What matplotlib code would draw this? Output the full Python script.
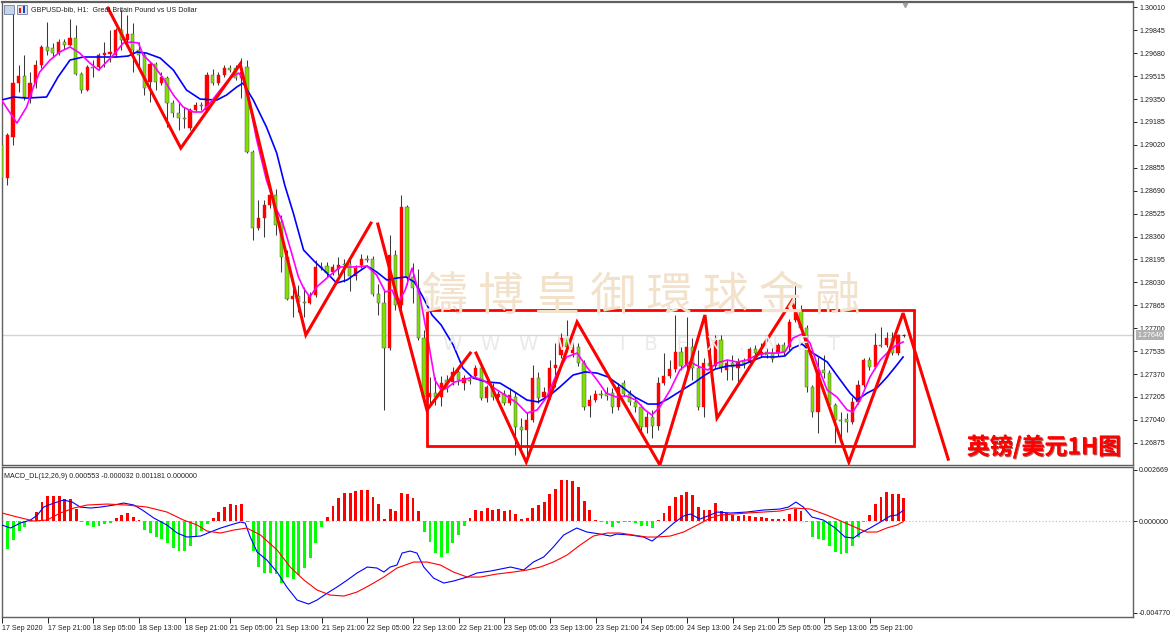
import matplotlib
matplotlib.use("Agg")
import matplotlib.pyplot as plt
from matplotlib.patches import Rectangle
from matplotlib import font_manager
import matplotlib.patheffects as pe
import numpy as np

# ---------------- data ----------------
opens = [1.29019,1.28781,1.29077,1.29465,1.29516,1.29365,1.29465,1.29595,1.29725,1.29717,
1.29681,1.29761,1.29739,1.29789,1.29530,1.29415,1.29581,1.29581,1.29667,1.29674,
1.29667,1.29847,1.29775,1.29818,1.29703,1.29667,1.29473,1.29602,1.29465,1.29501,
1.29321,1.29249,1.29213,1.29141,1.29271,1.29307,1.29271,1.29523,1.29465,1.29523,
1.29573,1.29573,1.29501,1.29581,1.28969,1.28421,1.28493,1.28587,1.28659,1.28465,
1.28213,1.27910,1.27932,1.27889,1.27881,1.27939,1.28141,1.28148,1.28105,1.28126,
1.28162,1.28162,1.28076,1.28155,1.28199,1.28199,1.27946,1.27881,1.27557,1.28227,
1.27867,1.28573,1.28069,1.27989,1.27629,1.27205,1.27233,1.27205,1.27327,1.27313,
1.27385,1.27305,1.27327,1.27356,1.27413,1.27197,1.27277,1.27205,1.27226,1.27161,
1.27205,1.26989,1.26967,1.27039,1.27341,1.27205,1.27205,1.27413,1.27507,1.27629,
1.27521,1.27565,1.27449,1.27140,1.27183,1.27226,1.27233,1.27233,1.27133,1.27305,
1.27226,1.27169,1.27133,1.26989,1.27061,1.26996,1.27305,1.27356,1.27406,1.27529,
1.27428,1.27565,1.27413,1.27133,1.27449,1.27428,1.27615,1.27399,1.27449,1.27413,
1.27464,1.27457,1.27550,1.27507,1.27529,1.27521,1.27521,1.27579,1.27565,1.27759,
1.27831,1.27701,1.27277,1.27097,1.27399,1.27377,1.27147,1.27039,1.27046,1.27025,
1.27169,1.27291,1.27471,1.27421,1.27579,1.27579,1.27629,1.27521,1.27651]
highs = [1.29055,1.29105,1.29969,1.29595,1.29667,1.29545,1.29631,1.29739,1.29905,1.29753,
1.29782,1.29782,1.29926,1.29883,1.29545,1.29595,1.29631,1.29681,1.29761,1.29847,
1.29861,1.29991,1.29955,1.29897,1.29761,1.29689,1.29617,1.29617,1.29545,1.29516,
1.29343,1.29321,1.29293,1.29285,1.29329,1.29329,1.29545,1.29566,1.29545,1.29595,
1.29595,1.29595,1.29645,1.29631,1.28983,1.28623,1.28623,1.28695,1.28702,1.28515,
1.28263,1.28047,1.28011,1.27997,1.27961,1.28191,1.28177,1.28177,1.28162,1.28213,
1.28199,1.28199,1.28155,1.28234,1.28227,1.28220,1.28018,1.27975,1.28371,1.28263,
1.28659,1.28587,1.28169,1.28126,1.27687,1.27349,1.27349,1.27356,1.27363,1.27421,
1.27399,1.27363,1.27356,1.27435,1.27435,1.27291,1.27305,1.27255,1.27255,1.27269,
1.27241,1.27053,1.27097,1.27435,1.27385,1.27277,1.27471,1.27593,1.27665,1.27759,
1.27615,1.27593,1.27471,1.27219,1.27255,1.27255,1.27277,1.27269,1.27305,1.27327,
1.27255,1.27205,1.27154,1.27097,1.27111,1.27349,1.27521,1.27471,1.27795,1.27565,
1.27781,1.27629,1.27543,1.27485,1.27579,1.27651,1.27651,1.27471,1.27507,1.27485,
1.27485,1.27565,1.27579,1.27593,1.27557,1.27557,1.27593,1.27601,1.27766,1.28033,
1.27867,1.27723,1.27291,1.27493,1.27507,1.27399,1.27161,1.27097,1.27089,1.27205,
1.27327,1.27485,1.27493,1.27665,1.27709,1.27673,1.27673,1.27658,1.27658]
lows = [1.28753,1.28731,1.29019,1.29401,1.29343,1.29321,1.29429,1.29573,1.29667,1.29653,
1.29667,1.29710,1.29732,1.29523,1.29393,1.29408,1.29509,1.29559,1.29581,1.29617,
1.29653,1.29703,1.29761,1.29545,1.29581,1.29379,1.29329,1.29415,1.29451,1.29149,
1.29221,1.29127,1.29141,1.29127,1.29257,1.29271,1.29257,1.29451,1.29451,1.29509,
1.29545,1.29487,1.29357,1.28961,1.28335,1.28407,1.28357,1.28565,1.28371,1.28105,
1.27903,1.27781,1.27817,1.27781,1.27874,1.27925,1.28119,1.28069,1.28083,1.28083,
1.28033,1.27968,1.28047,1.28133,1.28177,1.27932,1.27795,1.27111,1.27543,1.27831,
1.27831,1.28011,1.27881,1.27615,1.27183,1.27133,1.27147,1.27140,1.27241,1.27291,
1.27291,1.27255,1.27298,1.27341,1.27183,1.27169,1.27183,1.27183,1.27147,1.27147,
1.26787,1.26809,1.26787,1.27025,1.27161,1.27183,1.27190,1.27277,1.27485,1.27529,
1.27493,1.27428,1.27111,1.27061,1.27169,1.27197,1.27183,1.27089,1.27111,1.27212,
1.27147,1.27097,1.26953,1.26945,1.26909,1.26967,1.27291,1.27341,1.27385,1.27399,
1.27399,1.27327,1.27111,1.27061,1.27385,1.27413,1.27385,1.27327,1.27327,1.27313,
1.27413,1.27435,1.27500,1.27493,1.27485,1.27457,1.27500,1.27507,1.27543,1.27745,
1.27687,1.27241,1.27061,1.26945,1.27341,1.27125,1.26873,1.26873,1.26953,1.27010,
1.27154,1.27277,1.27399,1.27406,1.27565,1.27565,1.27507,1.27507,1.27637]
closes = [1.28781,1.29091,1.29465,1.29516,1.29365,1.29465,1.29595,1.29725,1.29696,1.29681,
1.29761,1.29739,1.29789,1.29530,1.29415,1.29581,1.29573,1.29667,1.29681,1.29689,
1.29847,1.29775,1.29818,1.29703,1.29667,1.29429,1.29602,1.29473,1.29509,1.29321,
1.29249,1.29213,1.29206,1.29271,1.29307,1.29300,1.29523,1.29465,1.29523,1.29573,
1.29559,1.29501,1.29545,1.28969,1.28421,1.28493,1.28587,1.28659,1.28443,1.28213,
1.27910,1.27932,1.27889,1.27881,1.27939,1.28141,1.28133,1.28097,1.28141,1.28155,
1.28155,1.28076,1.28133,1.28199,1.28191,1.27946,1.27881,1.27557,1.28227,1.27867,
1.28573,1.28069,1.27989,1.27629,1.27205,1.27233,1.27205,1.27305,1.27262,1.27385,
1.27327,1.27341,1.27320,1.27413,1.27197,1.27277,1.27205,1.27226,1.27161,1.27219,
1.26989,1.26967,1.27039,1.27341,1.27197,1.27241,1.27413,1.27435,1.27629,1.27565,
1.27565,1.27449,1.27133,1.27183,1.27226,1.27219,1.27212,1.27133,1.27277,1.27226,
1.27169,1.27133,1.26989,1.27061,1.26996,1.27305,1.27356,1.27406,1.27529,1.27428,
1.27565,1.27413,1.27133,1.27449,1.27428,1.27615,1.27421,1.27449,1.27421,1.27457,
1.27435,1.27550,1.27521,1.27529,1.27507,1.27478,1.27579,1.27529,1.27745,1.27831,
1.27701,1.27277,1.27097,1.27399,1.27377,1.27147,1.27039,1.27032,1.27025,1.27169,
1.27291,1.27471,1.27421,1.27579,1.27572,1.27629,1.27521,1.27651,1.27651]

# fast moving average (magenta) read at bar positions
ma_fast_x = [0.0,2.7,4.4,5.6,6.7,8.5,10.2,12.0,13.7,15.5,17.0,18.4,19.9,21.3,22.8,24.0,24.8,26.6,28.3,30.1,
31.8,33.6,35.1,36.5,38.3,40.0,41.5,42.3,43.2,44.7,46.4,48.2,49.1,50.5,52.0,52.9,54.0,55.2,57.2,59.3,
61.6,64.0,65.7,67.2,68.4,69.4,70.7,71.9,73.3,74.7,75.9,77.0,78.0,79.4,80.8,82.6,84.3,86.8,88.7,90.3,
92.0,93.8,95.5,97.3,99.0,100.8,102.5,104.3,105.9,107.6,109.4,111.1,112.7,113.9,115.3,117.1,118.8,120.6,122.3,123.7,
125.3,127.1,128.8,130.6,132.3,134.1,135.8,137.2,138.6,140.2,141.6,143.0,144.6,146.3,148.1,149.1,150.4,152.1,153.9,155.6,
156.8,157.9]
ma_fast_y = [1.29343,1.29177,1.29293,1.29437,1.29545,1.29631,1.29689,1.29725,1.29681,1.29609,1.29559,1.29617,1.29681,1.29753,1.29761,1.29753,1.29667,1.29595,1.29501,1.29379,
1.29293,1.29257,1.29257,1.29321,1.29415,1.29501,1.29537,1.29501,1.29365,1.29055,1.28767,1.28551,1.28479,1.28285,1.28069,1.27989,1.27925,1.27997,1.28069,1.28141,
1.28141,1.28148,1.28083,1.27961,1.27975,1.27881,1.27975,1.28133,1.27925,1.27615,1.27327,1.27255,1.27269,1.27313,1.27327,1.27349,1.27327,1.27255,1.27205,1.27161,
1.27089,1.27111,1.27205,1.27377,1.27493,1.27521,1.27421,1.27327,1.27233,1.27205,1.27212,1.27183,1.27111,1.27075,1.27133,1.27255,1.27399,1.27457,1.27421,1.27399,
1.27449,1.27471,1.27457,1.27471,1.27507,1.27521,1.27521,1.27529,1.27629,1.27658,1.27593,1.27421,1.27255,1.27205,1.27111,1.27097,1.27183,1.27349,1.27471,1.27543,
1.27579,1.27601]

# slow moving average (blue)
ma_slow_x = [0.0,2.1,4.4,7.9,9.9,12.0,14.3,17.3,20.2,22.2,23.7,25.4,27.8,30.1,32.4,34.8,37.7,39.4,41.2,42.3,
44.1,46.4,48.2,49.6,51.1,52.9,54.9,57.0,58.7,60.5,62.2,64.0,65.7,67.5,69.2,70.8,72.3,73.8,75.4,77.0,
79.1,80.8,82.6,85.0,87.3,89.6,92.0,94.0,96.1,97.8,100.1,102.2,104.3,106.2,108.7,110.9,113.2,115.0,116.7,119.2,
121.5,123.2,125.0,127.2,129.7,131.4,133.2,135.5,137.2,138.6,140.2,142.1,144.6,146.9,148.6,149.8,151.6,153.3,155.1,156.8,
157.9]
ma_slow_y = [1.29343,1.29365,1.29357,1.29365,1.29509,1.29631,1.29653,1.29653,1.29653,1.29660,1.29689,1.29681,1.29645,1.29559,1.29415,1.29350,1.29343,1.29379,1.29437,1.29465,
1.29343,1.29149,1.28961,1.28731,1.28530,1.28263,1.28177,1.28097,1.28025,1.28047,1.28097,1.28148,1.28105,1.28047,1.28061,1.28069,1.28033,1.27925,1.27795,1.27723,
1.27579,1.27413,1.27341,1.27313,1.27305,1.27248,1.27183,1.27169,1.27219,1.27277,1.27363,1.27385,1.27377,1.27349,1.27277,1.27205,1.27154,1.27154,1.27190,1.27255,
1.27313,1.27363,1.27406,1.27428,1.27435,1.27464,1.27493,1.27493,1.27500,1.27557,1.27586,1.27521,1.27457,1.27327,1.27233,1.27183,1.27233,1.27269,1.27349,1.27435,
1.27493]

# MACD histogram, one value per bar
macd_hist = [-0.00125,-0.00146,-0.00099,-0.00052,-0.00031,-0.00003,0.00047,0.00099,0.00130,0.00130,
0.00130,0.00114,0.00114,0.00062,-0.00005,-0.00021,-0.00031,-0.00026,-0.00016,-0.00010,
0.00016,0.00031,0.00042,0.00021,0.00005,-0.00047,-0.00062,-0.00083,-0.00094,-0.00114,
-0.00140,-0.00156,-0.00156,-0.00130,-0.00083,-0.00052,-0.00016,0.00016,0.00047,0.00073,
0.00088,0.00083,0.00088,-0.00005,-0.00156,-0.00239,-0.00270,-0.00270,-0.00276,-0.00322,
-0.00291,-0.00302,-0.00281,-0.00244,-0.00192,-0.00114,-0.00031,0.00021,0.00078,0.00120,
0.00146,0.00146,0.00156,0.00161,0.00161,0.00125,0.00088,0.00010,0.00062,0.00052,
0.00146,0.00140,0.00120,0.00052,-0.00057,-0.00109,-0.00166,-0.00187,-0.00166,-0.00114,
-0.00073,-0.00026,0.00016,0.00057,0.00052,0.00068,0.00057,0.00062,0.00052,0.00057,
0.00036,0.00010,0.00016,0.00068,0.00083,0.00099,0.00140,0.00166,0.00213,0.00213,
0.00208,0.00177,0.00104,0.00057,0.00005,-0.00005,-0.00016,-0.00031,-0.00010,-0.00005,
-0.00005,-0.00010,-0.00026,-0.00026,-0.00036,0.00005,0.00042,0.00078,0.00125,0.00135,
0.00151,0.00135,0.00073,0.00057,0.00057,0.00094,0.00052,0.00042,0.00031,0.00026,
0.00031,0.00026,0.00021,0.00021,0.00016,0.00010,0.00010,0.00010,0.00036,0.00062,
0.00052,-0.00005,-0.00083,-0.00094,-0.00099,-0.00130,-0.00161,-0.00172,-0.00166,-0.00130,
-0.00083,-0.00005,0.00031,0.00088,0.00125,0.00151,0.00140,0.00140,0.001181]

# MACD main line (blue) and signal line (red)
macd_x = [0.0,1.5,3.2,5.0,6.2,7.3,9.1,10.8,12.3,13.7,15.5,17.3,19.6,21.3,23.1,24.6,26.6,28.9,30.7,32.4,
34.8,36.5,38.3,40.0,41.8,42.6,43.5,44.7,46.4,48.2,49.9,51.7,53.7,55.2,57.0,58.7,60.5,62.2,64.0,65.7,
66.9,68.0,69.2,70.1,71.5,72.7,73.9,75.6,77.4,79.1,81.5,83.2,85.6,89.1,91.4,93.1,94.9,96.6,98.4,100.7,
102.5,104.8,106.6,107.7,110.1,112.4,113.9,115.9,117.7,119.4,120.6,122.3,124.1,125.3,127.6,130.5,133.4,136.3,137.8,139.1,
140.4,141.9,143.9,146.0,147.7,149.2,150.4,152.1,153.9,155.6,156.8,157.9]
macd_main = [-0.000208,-0.000364,-0.000104,0.000052,0.000312,0.000728,0.000936,0.001092,0.000988,0.000728,
0.000676,0.000728,0.000832,0.000936,0.000832,0.000572,0.000156,-0.000208,-0.000624,-0.000832,
-0.000780,-0.000572,-0.000364,-0.000208,-0.000052,-0.000104,-0.000832,-0.001612,-0.002028,-0.002652,
-0.003432,-0.004108,-0.004316,-0.004108,-0.003744,-0.003432,-0.003068,-0.002704,-0.002392,-0.002444,
-0.002652,-0.002392,-0.002288,-0.001664,-0.001560,-0.001664,-0.002392,-0.002964,-0.003224,-0.003120,
-0.002912,-0.002704,-0.002600,-0.002392,-0.002548,-0.002132,-0.001872,-0.001352,-0.000728,-0.000364,
-0.000572,-0.000676,-0.000780,-0.000676,-0.000728,-0.000832,-0.001040,-0.000572,-0.000104,0.000260,
0.000364,0.000104,0.000312,0.000468,0.000416,0.000468,0.000572,0.000624,0.000728,0.000988,
0.000728,0.000208,0.000052,-0.000364,-0.000832,-0.000884,-0.000624,-0.000364,-0.000052,0.000260,
0.000312,0.000553]
signal_x = [0.0,2.7,5.6,7.9,10.2,12.6,14.9,18.4,21.9,25.4,28.9,31.8,34.2,35.9,38.3,40.6,42.9,45.3,48.2,50.5,
52.9,55.2,57.5,59.9,62.2,64.5,66.9,69.2,72.1,74.5,76.8,79.1,81.5,83.8,86.7,89.6,92.0,94.3,96.6,99.0,
101.3,103.6,106.0,108.3,110.6,113.0,114.7,117.1,119.4,121.8,124.1,125.8,128.2,130.5,133.4,136.3,138.7,141.6,144.5,147.4,
149.8,151.5,153.3,155.0,156.8,157.9]
signal_line = [0.000416,0.000208,0.0,0.000052,0.000416,0.000676,0.000832,0.000884,0.000832,0.000728,
0.000468,0.000052,-0.000208,-0.000520,-0.000624,-0.000468,-0.000364,-0.000728,-0.001508,-0.002392,
-0.003068,-0.003588,-0.003848,-0.003900,-0.003692,-0.003328,-0.002912,-0.002444,-0.002132,-0.002132,
-0.002288,-0.002652,-0.002912,-0.002912,-0.002756,-0.002652,-0.002548,-0.002392,-0.002132,-0.001768,
-0.001248,-0.000780,-0.000624,-0.000624,-0.000728,-0.000832,-0.000832,-0.000780,-0.000572,-0.000208,
0.000156,0.000312,0.000364,0.000416,0.000468,0.000520,0.000676,0.000624,0.000312,-0.000052,
-0.000364,-0.000572,-0.000572,-0.000364,-0.000208,-0.000032]

# hand-drawn trend lines (bar position, price)
trend1_x = [18.65,31.4,41.8,53.3,64.7]
trend1_y = [1.30005,1.28997,1.29602,1.27651,1.28457]
trend2_x = [65.9,74.5,82.1]
trend2_y = [1.28450,1.27111,1.27521]
trend3_x = [83.1,91.9,100.8,115.3,123.2,125.3,138.4,148.4,157.9,165.8]
trend3_y = [1.27521,1.26736,1.27745,1.26715,1.27795,1.27053,1.27896,1.26735,1.27809,1.26757]
box_x = [74.5,159.8]
box_y = [1.26855,1.27831]
bid_price = 1.27651

price_ticks = [1.30010,1.29845,1.29680,1.29515,1.29350,1.29185,1.29020,1.28855,1.28690,1.28525,
1.28360,1.28195,1.28030,1.27865,1.27700,1.27535,1.27370,1.27205,1.27040,1.26875]
macd_ticks = [0.002669,0.0,-0.004770]
time_ticks = list(range(0,153,8))
time_labels = ['17 Sep 2020','17 Sep 21:00','18 Sep 05:00','18 Sep 13:00','18 Sep 21:00',
'21 Sep 05:00','21 Sep 13:00','21 Sep 21:00','22 Sep 05:00','22 Sep 13:00','22 Sep 21:00',
'23 Sep 05:00','23 Sep 13:00','23 Sep 21:00','24 Sep 05:00','24 Sep 13:00','24 Sep 21:00',
'25 Sep 05:00','25 Sep 13:00','25 Sep 21:00']

# ---------------- drawing ----------------
installed = {f.name for f in font_manager.fontManager.ttflist}
SMALL = 'Liberation Sans Narrow' if 'Liberation Sans Narrow' in installed else 'Liberation Sans'
SMALL_SIZE = 5.9 if SMALL == 'Liberation Sans Narrow' else 5.1
plt.rcParams['font.family'] = [SMALL, 'DejaVu Sans']

W, H = 1170, 632
fig = plt.figure(figsize=(W/100, H/100), dpi=100, facecolor='white')

def box(x0, y0, x1, y1):
    return [x0/W, 1-y1/H, (x1-x0)/W, (y1-y0)/H]

ax = fig.add_axes(box(2, 2, 1133, 465))
ax2 = fig.add_axes(box(2, 467, 1133, 617))
XL = (0.0876, 198.16)

RED = '#FF0000'
CGREEN = '#7EE000'
HGREEN = '#00FF00'
WICK = '#3a3a3a'

o = np.array(opens); h = np.array(highs); l = np.array(lows); c = np.array(closes)
xs = np.arange(len(c))

# watermark
fig.text(641/W, 1-297/H, '鑄 博 皇 御 環 球 金 融', fontsize=33, color='#F3E2CB',
         family=['Noto Sans CJK TC', 'DejaVu Sans'], ha='center', va='center', zorder=0)
fig.text(641/W, 1-345/H, 'W   W   W   W   .   I   B   F   X   .   N   E   T', fontsize=14,
         family=['DejaVu Sans'], color='#EAEAEA', ha='center', va='center', zorder=0)

ax.set_facecolor('none')
ax.axhline(bid_price, color='#d4d4d4', lw=1.0, zorder=1)
ax.vlines(xs, l, h, color=WICK, lw=0.75, zorder=2)
bull = c > o
bear = c < o
ax.bar(xs[bull], (c-o)[bull], bottom=o[bull], width=0.56, color=RED, edgecolor=RED, lw=0.3, zorder=3)
ax.bar(xs[bear], (o-c)[bear], bottom=c[bear], width=0.56, color=CGREEN, edgecolor='#5a5a5a', lw=0.35, zorder=3)
doji = c == o
ax.hlines(c[doji], xs[doji]-0.3, xs[doji]+0.3, color=WICK, lw=0.8, zorder=3)

ax.plot(ma_slow_x, ma_slow_y, color='#0000FF', lw=1.2, zorder=4)
ax.plot(ma_fast_x, ma_fast_y, color='#FF00FF', lw=1.2, zorder=4)

for tx, ty in ((trend1_x, trend1_y), (trend2_x, trend2_y), (trend3_x, trend3_y)):
    ax.plot(tx, ty, color=RED, lw=2.2, zorder=6, solid_joinstyle='miter')
ax.add_patch(Rectangle((box_x[0], box_y[0]), box_x[1]-box_x[0], box_y[1]-box_y[0],
                       fill=False, ec=RED, lw=2.0, zorder=6))

ax.set_xlim(*XL)
ax.set_ylim(1.26715, 1.30049)
ax.set_xticks([])
ax.yaxis.tick_right()
ax.set_yticks(price_ticks)
ax.set_yticklabels(['%.5f' % v for v in price_ticks])
ax.tick_params(axis='y', direction='out', length=3, width=0.7, colors='#202020',
               labelsize=SMALL_SIZE, pad=1.5)
for s in ax.spines.values():
    s.set_color('#606060'); s.set_linewidth(1.0)
ax.spines['top'].set_linewidth(1.6)
ax.text(1.004, (bid_price-1.26715)/(1.30049-1.26715), '%.5f' % 1.27646, transform=ax.transAxes,
        fontsize=SMALL_SIZE, color='white', va='center', ha='left',
        bbox=dict(boxstyle='square,pad=0.15', fc='#b0b0b0', ec='none'), clip_on=False)

fig.text(1044/W, 1-447/H, '英镑/美元1H图', fontsize=16.5, fontweight='bold', color=RED,
         family=['Noto Sans CJK SC', 'DejaVu Sans'], ha='center', va='center', zorder=10,
         path_effects=[pe.withSimplePatchShadow(offset=(0.8, -0.8), shadow_rgbFace='#800000', alpha=0.6), pe.Normal()])

# title + icons
fig.patches.append(Rectangle((4/W, 1-14/H), 10/W, 9/H, transform=fig.transFigure, fc='#c9d3e6', ec='#6d7fa8', lw=0.6))
fig.patches.append(Rectangle((17/W, 1-14/H), 10/W, 9/H, transform=fig.transFigure, fc='#dfe6f2', ec='#6d7fa8', lw=0.6))
fig.patches.append(Rectangle((19/W, 1-13/H), 2/W, 5/H, transform=fig.transFigure, fc='#d02020', ec='none'))
fig.patches.append(Rectangle((23/W, 1-13/H), 2/W, 7/H, transform=fig.transFigure, fc='#2040c0', ec='none'))
fig.text(31/W, 1-10/H, 'GBPUSD-bib, H1:  Great Britain Pound vs US Dollar', fontsize=SMALL_SIZE,
         color='#202020', ha='left', va='center')
ax.plot([903/5.71], [1.30030], marker='v', color='#a0a0a0', ms=3, clip_on=False, zorder=7)

# MACD panel
hist = np.array(macd_hist)
hcol = [RED if v > 0 else HGREEN for v in hist]
ax2.axhline(0, color='#b8b8b8', lw=0.8, ls=(0, (1, 2)), zorder=1)
ax2.bar(xs, hist, width=0.5, color=hcol, zorder=2)
ax2.plot(macd_x, macd_main, color='#0000FF', lw=0.8, zorder=3)
ax2.plot(signal_x, signal_line, color='#FF0000', lw=0.8, zorder=3)
ax2.set_xlim(*XL)
ax2.set_ylim(-0.00499, 0.00281)
ax2.yaxis.tick_right()
ax2.set_yticks(macd_ticks)
ax2.set_yticklabels(['0.002669', '0.000000', '-0.004770'])
ax2.tick_params(axis='y', direction='out', length=3, width=0.7, colors='#202020',
                labelsize=SMALL_SIZE, pad=1.0)
ax2.set_xticks(time_ticks)
ax2.set_xticklabels(time_labels, ha='left')
ax2.tick_params(axis='x', direction='out', length=4, width=0.7, colors='#202020',
                labelsize=SMALL_SIZE, pad=1.5)
for s in ax2.spines.values():
    s.set_color('#606060'); s.set_linewidth(1.0)
ax2.text(0.002, 0.94, 'MACD_DL(12,26,9) 0.000553 -0.000032 0.001181 0.000000',
         transform=ax2.transAxes, fontsize=SMALL_SIZE, color='#202020', ha='left', va='center')

fig.savefig('out.png', dpi=100, facecolor='white')
